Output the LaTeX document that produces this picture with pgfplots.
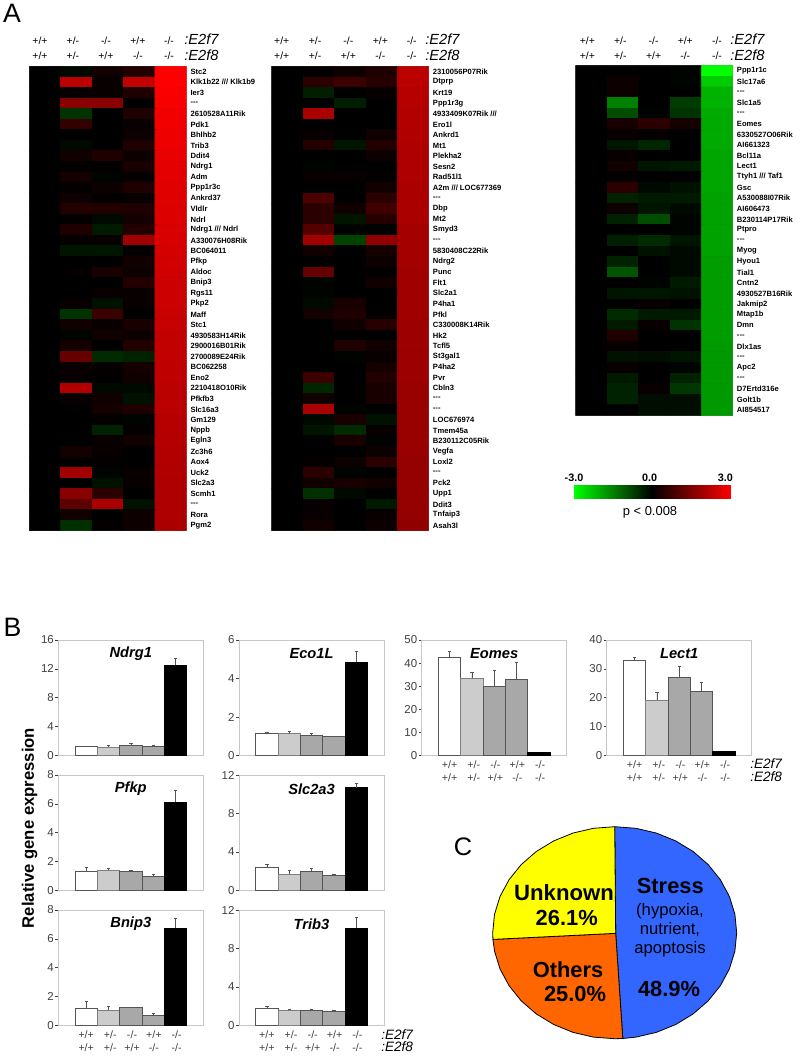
\documentclass[border=0pt]{standalone}
\usepackage{fontspec}
\setmainfont{Liberation Sans}
\usepackage{pgfplots}
\pgfplotsset{compat=1.18}
\definecolor{edg}{gray}{0.33}
\definecolor{edgl}{gray}{0.5}
\definecolor{fr}{gray}{0.78}
\definecolor{bar2}{gray}{0.80}
\definecolor{bar3}{gray}{0.66}
\definecolor{tk}{gray}{0.25}
\definecolor{pblue}{RGB}{51,102,255}
\definecolor{porange}{RGB}{255,102,0}
\definecolor{pyellow}{RGB}{255,255,0}
\newcommand\fs[1]{\fontsize{#1}{#1}\selectfont}
\newcommand\T[4]{\node[inner sep=0pt,font=#3] at (#1*0.75pt,-#2*0.75pt) {#4};}
\newcommand\TW[4]{\node[inner sep=0pt,anchor=west,font=#3] at (#1*0.75pt,-#2*0.75pt) {#4};}
\pgfplotsset{
 axat/.style 2 args={at={(#1*0.75pt,-#2*0.75pt)}},
 heat/.style={
  scale only axis, anchor=north west, width=157*0.75pt,
  xmin=-0.5,xmax=4.5,ymin=-0.5,y dir=reverse,
  axis background/.style={fill=black},
  axis line style={gray,line width=0.5pt},
  colormap={gbr}{rgb255(0)=(0,255,0) rgb255(1)=(0,0,0) rgb255(2)=(255,0,0)},
  point meta min=-3,point meta max=3,
  major tick length=0pt,
  ytick pos=right, yticklabel pos=right,
  xtick pos=upper, xticklabel pos=upper,
  y tick label style={font=\bfseries\fs{5.7},inner sep=0pt,anchor=west,xshift=3pt},
  x tick label style={font=\fs{7.8},align=center,inner sep=0pt,anchor=south,yshift=4.5pt},
  xticklabels={{+/+\\[3.6pt]+/+},{+/-\\[3.6pt]+/-},{-/-\\[3.6pt]+/+},{+/+\\[3.6pt]-/-},{-/-\\[3.6pt]-/-}},
  ytick distance=1,
 },
 barp/.style={
  scale only axis, anchor=north west, width=145*0.75pt, height=115.5*0.75pt,
  xmin=-1.25,xmax=5.24,ymin=0,
  axis line style={fr,line width=0.7pt},
  major tick length=2.2pt,
  tick style={tk,line width=0.5pt},
  xtick=\empty, ytick pos=left, tick align=outside,
  y tick label style={font=\fs{8.6},color=tk,inner sep=1pt,/pgf/number format/assume math mode=true},
  every axis title shift=0pt,
  title style={at={(0.5,0.88)},anchor=center,font=\bfseries\itshape\fs{11}},
  cycle list={{fill=white,draw=edg},{fill=bar2,draw=edgl},{fill=bar3,draw=edg},{fill=bar3,draw=edg},{fill=black,draw=black}},
  every axis plot/.append style={ybar,bar width=1,bar shift=0pt,line width=0.6pt,
    error bars/y dir=plus,error bars/y explicit,
    error bars/error bar style={edg,line width=0.5pt},
    error bars/error mark options={rotate=90,mark size=1.2pt,edg,line width=0.5pt}},
 },
 barlab/.style={
  xtick={0,1.08,2.05,3.03,4.05},
  xticklabels={{+/+\\[2pt]+/+},{+/-\\[2pt]+/-},{-/-\\[2pt]+/+},{+/+\\[2pt]-/-},{-/-\\[2pt]-/-}},
  x tick label style={font=\fs{8},color=tk,align=center,inner sep=0pt,anchor=north,yshift=-1.6pt},
  x tick style={draw=none},
 },
}
\begin{document}
\begin{tikzpicture}
\fill[white] (0,0) rectangle (600pt,-796.5pt);
\path[use as bounding box] (0,0) rectangle (600pt,-796.5pt);

% ---------- heatmap 1
\begin{axis}[heat,axat={29.3}{66.3},height=464.4*0.75pt,ymax=43.5,
 xtick={-0.16,0.89,1.94,2.96,3.95},
 ytick={0,...,43},
 yticklabels={Stc2,Klk1b22 /// Klk1b9,Ier3,-{}-{}-,2610528A11Rik,Pdk1,Bhlhb2,Trib3,Ddit4,Ndrg1,Adm,Ppp1r3c,Ankrd37,Vldlr,Ndrl,Ndrg1 /// Ndrl,A330076H08Rik,BC064011,Pfkp,Aldoc,Bnip3,Rgs11,Pkp2,Maff,Stc1,4930583H14Rik,2900016B01Rik,2700089E24Rik,BC062258,Eno2,2210418O10Rik,Pfkfb3,Slc16a3,Gm129,Nppb,Egln3,Zc3h6,Aox4,Uck2,Slc2a3,Scmh1,-{}-{}-,Rora,Pgm2}]
\addplot[matrix plot*,mesh/cols=5,point meta=explicit] table[row sep=\\,header=false,x expr={mod(\coordindex,5)},y expr={floor((\coordindex+0.5)/5)},meta index=0] {
0\\-0.1\\0.2\\0.4\\3.0\\
0\\2.2\\0.1\\2.3\\3.0\\
0\\0.1\\0.1\\0.35\\2.95\\
0\\1.6\\1.6\\0\\2.9\\
0\\-0.6\\0\\0.35\\2.85\\
0\\0.6\\0\\0.1\\2.85\\
0\\0\\0\\0.15\\2.8\\
0\\-0.1\\0\\0.35\\2.8\\
0\\0.2\\0.35\\0.15\\2.75\\
0\\0.05\\0.05\\0.3\\2.7\\
0\\0.25\\-0.05\\0.05\\2.7\\
0\\0.05\\0.15\\0.35\\2.65\\
0\\0.15\\0.05\\0.1\\2.65\\
0\\0.4\\0.4\\0.35\\2.6\\
0\\0.05\\-0.1\\0.25\\2.6\\
0\\0.35\\-0.3\\0.4\\2.55\\
0\\0.05\\0.1\\1.9\\2.55\\
0\\-0.25\\-0.25\\0.05\\2.5\\
0\\0\\0\\0.2\\2.5\\
0\\0.05\\0.3\\0.15\\2.45\\
0\\0\\0\\0.4\\2.4\\
0\\0\\0.1\\0.1\\2.4\\
0\\0.1\\-0.2\\0.1\\2.4\\
0\\-0.6\\0.7\\0\\2.35\\
0\\0.2\\0.1\\0.3\\2.35\\
0\\-0.05\\0.2\\0.15\\2.3\\
0\\0.25\\0\\0.4\\2.3\\
0\\1.2\\-0.5\\-0.4\\2.3\\
0\\0.1\\0.05\\0.25\\2.25\\
0\\0.1\\0.05\\0.2\\2.25\\
0\\2.1\\-0.1\\-0.1\\2.2\\
0\\0.1\\0.2\\-0.2\\2.2\\
0\\0\\0.25\\0.35\\2.2\\
0\\0\\0.05\\-0.05\\2.15\\
0\\0\\-0.4\\0.05\\2.15\\
0\\0\\0.1\\0.2\\2.15\\
0\\0.25\\0.1\\0\\2.1\\
0\\0\\0.05\\0\\2.1\\
0\\1.9\\-0.05\\0.1\\2.1\\
0\\0\\-0.2\\0.1\\2.05\\
0\\1.6\\0.5\\0\\2.05\\
0\\1.1\\2.0\\-0.2\\2.05\\
0\\0.2\\0\\0.15\\2.05\\
0\\-0.55\\0.05\\0.15\\2.0\\
};
\end{axis}

% ---------- heatmap 2
\begin{axis}[heat,axat={271.7}{66.3},height=464.4*0.75pt,ymax=43.5,
 xtick={-0.18,0.88,1.94,2.96,3.96},
 ytick={0,...,43},
 yticklabels={2310056P07Rik,Dtprp,Krt19,Ppp1r3g,4933409K07Rik ///,Ero1l,Ankrd1,Mt1,Plekha2,Sesn2,Rad51l1,A2m /// LOC677369,-{}-{}-,Dbp,Mt2,Smyd3,-{}-{}-,5830408C22Rik,Ndrg2,Punc,Flt1,Slc2a1,P4ha1,Pfkl,C330008K14Rik,Hk2,Tcfl5,St3gal1,P4ha2,Pvr,Cbln3,-{}-{}-,-{}-{}-,LOC676974,Tmem45a,B230112C05Rik,Vegfa,Loxl2,-{}-{}-,Pck2,Upp1,Ddit3,Tnfaip3,Asah3l}]
\addplot[matrix plot*,mesh/cols=5,point meta=explicit] table[row sep=\\,header=false,x expr={mod(\coordindex,5)},y expr={floor((\coordindex+0.5)/5)},meta index=0] {
0\\0.05\\0.15\\0.35\\2.2\\
0\\0.5\\0.7\\0.45\\2.2\\
0\\-0.35\\0\\0.1\\2.15\\
0\\0\\-0.35\\0\\2.15\\
0\\2.0\\0\\0\\2.1\\
0\\0\\0\\0\\2.1\\
0\\0.1\\0\\0.2\\2.1\\
0\\0.4\\-0.25\\0.4\\2.05\\
0\\0\\0\\0.15\\2.05\\
0\\-0.05\\0\\0\\2.05\\
0\\0.1\\0.1\\0.05\\2.05\\
0\\0\\0\\0.2\\2.0\\
0\\0.9\\0\\0.5\\2.0\\
0\\0.5\\0.2\\0.75\\2.0\\
0\\0.5\\-0.25\\0.45\\2.0\\
0\\1.0\\-0.05\\-0.05\\1.95\\
0\\1.9\\-0.8\\1.7\\1.95\\
0\\0.2\\0\\0.25\\1.95\\
0\\0\\0\\0.15\\1.95\\
0\\1.2\\0\\0\\1.9\\
0\\-0.05\\0\\0.2\\1.9\\
0\\-0.05\\0\\0\\1.9\\
0\\-0.1\\0.3\\0\\1.9\\
0\\0.25\\0.35\\0.05\\1.9\\
0\\0\\0.2\\0.45\\1.85\\
0\\0\\0\\0\\1.85\\
0\\0\\0.35\\0.2\\1.85\\
0\\0\\-0.05\\0.1\\1.85\\
0\\0\\0\\0.25\\1.85\\
0\\0.7\\0\\0.4\\1.85\\
0\\-0.45\\0\\0.3\\1.8\\
0\\0.2\\0\\0.3\\1.8\\
0\\2.0\\-0.05\\0\\1.8\\
0\\-0.1\\0.3\\-0.2\\1.8\\
0\\-0.25\\-0.5\\0.1\\1.8\\
0\\0\\0.3\\-0.05\\1.8\\
0\\0\\0\\0.15\\1.8\\
0\\0.05\\0.15\\0.5\\1.75\\
0\\0.5\\-0.05\\0\\1.75\\
0\\0.2\\0.3\\0.2\\1.75\\
0\\-0.55\\-0.1\\0\\1.75\\
0\\0.1\\0\\-0.3\\1.75\\
0\\0.1\\0\\0.1\\1.75\\
0\\0.2\\0\\0.15\\1.7\\
};
\end{axis}

% ---------- heatmap 3
\begin{axis}[heat,axat={575.7}{65.7},height=349.6*0.75pt,ymax=32.5,
 xtick={-0.13,0.92,1.98,2.99,4.0},
 ytick={0,...,32},
 yticklabels={Ppp1r1c,Slc17a6,-{}-{}-,Slc1a5,-{}-{}-,Eomes,6330527O06Rik,AI661323,Bcl11a,Lect1,Ttyh1 /// Taf1,Gsc,A530088I07Rik,AI606473,B230114P17Rik,Ptpro,-{}-{}-,Myog,Hyou1,Tial1,Cntn2,4930527B16Rik,Jakmip2,Mtap1b,Dmn,-{}-{}-,Dlx1as,-{}-{}-,Apc2,-{}-{}-,D7Ertd316e,Golt1b,AI854517}]
\addplot[matrix plot*,mesh/cols=5,point meta=explicit] table[row sep=\\,header=false,x expr={mod(\coordindex,5)},y expr={floor((\coordindex+0.5)/5)},meta index=0] {
0\\0\\0\\-0.05\\-3.0\\
0\\0.15\\0\\-0.05\\-2.4\\
0\\0.15\\0\\0\\-2.1\\
0\\-1.5\\0\\-0.7\\-2.1\\
0\\-0.9\\-0.05\\-0.6\\-2.0\\
0\\0.3\\0.5\\0.25\\-2.0\\
0\\0.1\\0.05\\0\\-2.0\\
0\\-0.25\\-0.45\\0\\-2.0\\
0\\0.1\\0\\0\\-1.95\\
0\\0.2\\-0.25\\-0.3\\-1.95\\
0\\0.05\\0\\0\\-1.95\\
0\\0.5\\-0.1\\-0.2\\-1.95\\
0\\-0.4\\-0.3\\-0.3\\-1.9\\
0\\0.15\\-0.25\\-0.1\\-1.9\\
0\\-0.4\\-0.9\\-0.05\\-1.9\\
0\\0\\0\\-0.05\\-1.9\\
0\\-0.35\\-0.5\\-0.25\\-1.9\\
0\\0\\-0.2\\-0.1\\-1.9\\
0\\-0.4\\0\\-0.1\\-1.85\\
0\\-1.0\\0\\-0.1\\-1.85\\
0\\0\\-0.05\\-0.3\\-1.85\\
0\\-0.25\\-0.25\\-0.2\\-1.85\\
0\\0\\0.1\\0\\-1.85\\
0\\-0.5\\-0.3\\-0.3\\-1.85\\
0\\-0.3\\0.1\\-0.6\\-1.85\\
0\\0.35\\0\\0\\-1.85\\
0\\0.1\\0\\0\\-1.8\\
0\\-0.2\\-0.15\\-0.25\\-1.8\\
0\\0.1\\0\\-0.05\\-1.8\\
0\\-0.3\\0\\-0.4\\-1.8\\
0\\-0.4\\0.1\\-0.65\\-1.8\\
0\\-0.4\\-0.15\\-0.15\\-1.8\\
0\\0\\-0.15\\-0.15\\-1.8\\
};
\end{axis}

% ---------- colour bar
\begin{axis}[scale only axis,anchor=north west,axat={574}{485.3},width=156.7*0.75pt,height=13.4*0.75pt,
 xmin=-3,xmax=3,ymin=0,ymax=1,axis line style={draw=none},
 colormap={gbr}{rgb255(0)=(0,255,0) rgb255(1)=(0,0,0) rgb255(2)=(255,0,0)},
 point meta min=-3,point meta max=3,
 ytick=\empty,xtick={-3,-0.1,2.8},xticklabels={-3.0,0.0,3.0},xtick pos=upper,xticklabel pos=upper,
 major tick length=0pt,
 x tick label style={font=\bfseries\fs{8.1},inner sep=0pt,yshift=2.5pt}]
\addplot[surf,shader=interp,mesh/rows=2,point meta=x] coordinates {(-3,0) (0,0) (3,0) (-3,1) (0,1) (3,1)};
\end{axis}
\T{650}{512}{\fs{9.7}}{p < 0.008}

% ---------- header labels
\TW{184}{39}{\itshape\fs{11}}{:E2f7}
\TW{184}{55}{\itshape\fs{11}}{:E2f8}
\TW{425}{39.3}{\itshape\fs{11}}{:E2f7}
\TW{425}{55.7}{\itshape\fs{11}}{:E2f8}
\TW{730}{39.3}{\itshape\fs{11}}{:E2f7}
\TW{730}{55.7}{\itshape\fs{11}}{:E2f8}
\T{12}{13}{\fs{20}}{A}
\T{12.5}{627}{\fs{20}}{B}
\T{463}{847}{\fs{19}}{C}

% ---------- bar panels
\begin{axis}[barp,axat={58.3}{640},ymax=16,ytick={0,4,8,12,16},title={Ndrg1}]
\addplot coordinates {(0,1.2) +- (0,0.1)};
\addplot coordinates {(1,1.15) +- (0,0.25)};
\addplot coordinates {(2,1.38) +- (0,0.32)};
\addplot coordinates {(3,1.2) +- (0,0.23)};
\addplot coordinates {(4,12.53) +- (0,0.92)};
\end{axis}
\begin{axis}[barp,axat={239}{640},ymax=6,ytick={0,2,4,6},title={Eco1L}]
\addplot coordinates {(0,1.13) +- (0,0.07)};
\addplot coordinates {(1,1.13) +- (0,0.14)};
\addplot coordinates {(2,1.06) +- (0,0.07)};
\addplot+[error bars/y dir=none] coordinates {(3,1.0)};
\addplot coordinates {(4,4.84) +- (0,0.58)};
\end{axis}
\begin{axis}[barp,axat={58.3}{775},ymax=8,ytick={0,2,4,6,8},title={Pfkp}]
\addplot coordinates {(0,1.33) +- (0,0.29)};
\addplot coordinates {(1,1.4) +- (0,0.15)};
\addplot coordinates {(2,1.3) +- (0,0.09)};
\addplot coordinates {(3,0.98) +- (0,0.11)};
\addplot coordinates {(4,6.13) +- (0,0.83)};
\end{axis}
\begin{axis}[barp,axat={239}{775},ymax=12,ytick={0,4,8,12},title={Slc2a3}]
\addplot coordinates {(0,2.4) +- (0,0.3)};
\addplot coordinates {(1,1.67) +- (0,0.41)};
\addplot coordinates {(2,1.95) +- (0,0.31)};
\addplot coordinates {(3,1.53) +- (0,0.14)};
\addplot coordinates {(4,10.68) +- (0,0.45)};
\end{axis}
\begin{axis}[barp,barlab,axat={58.3}{910},ymax=8,ytick={0,2,4,6,8},title={Bnip3}]
\addplot coordinates {(0,1.18) +- (0,0.48)};
\addplot coordinates {(1,1.06) +- (0,0.26)};
\addplot+[error bars/y dir=none] coordinates {(2,1.25)};
\addplot coordinates {(3,0.7) +- (0,0.13)};
\addplot coordinates {(4,6.74) +- (0,0.7)};
\end{axis}
\begin{axis}[barp,barlab,axat={239}{910},ymax=12,ytick={0,4,8,12},title={Trib3}]
\addplot coordinates {(0,1.77) +- (0,0.21)};
\addplot coordinates {(1,1.56) +- (0,0.11)};
\addplot coordinates {(2,1.53) +- (0,0.14)};
\addplot coordinates {(3,1.46) +- (0,0.1)};
\addplot coordinates {(4,10.14) +- (0,1.06)};
\end{axis}
\begin{axis}[barp,barlab,axat={421.7}{640},ymax=50,ytick={0,10,20,30,40,50},title={Eomes}]
\addplot coordinates {(0,42.6) +- (0,2.5)};
\addplot coordinates {(1,33.5) +- (0,2.5)};
\addplot coordinates {(2,29.9) +- (0,6.9)};
\addplot coordinates {(3,33.1) +- (0,7.1)};
\addplot+[error bars/y dir=none] coordinates {(4,1.3)};
\end{axis}
\begin{axis}[barp,barlab,axat={606.7}{640},ymax=40,ytick={0,10,20,30,40},title={Lect1}]
\addplot coordinates {(0,33.1) +- (0,1)};
\addplot coordinates {(1,19.1) +- (0,2.8)};
\addplot coordinates {(2,27.1) +- (0,3.7)};
\addplot coordinates {(3,22.1) +- (0,3.1)};
\addplot+[error bars/y dir=none] coordinates {(4,1.3)};
\end{axis}
\TW{381}{1034.5}{\itshape\fs{10.2}}{:E2f7}
\TW{381}{1047}{\itshape\fs{10.2}}{:E2f8}
\TW{750}{763.7}{\itshape\fs{10.2}}{:E2f7}
\TW{750}{777}{\itshape\fs{10.2}}{:E2f8}
\node[inner sep=0pt,rotate=90,font=\bfseries\fs{12.5}] at (29.5*0.75pt,-828*0.75pt) {Relative gene expression};

% ---------- pie
\begin{axis}[scale only axis,anchor=center,axat={614.7}{932.7},width=244*0.75pt,height=212*0.75pt,
 xmin=-1,xmax=1,ymin=-1,ymax=1,hide axis,clip=false]
\addplot[fill=pblue,draw=black,line width=0.6pt,no marks] coordinates {(0,1) (0.174,0.985) (0.342,0.940) (0.5,0.866) (0.643,0.766) (0.766,0.643) (0.866,0.5) (0.940,0.342) (0.985,0.174) (1,0) (0.985,-0.174) (0.940,-0.342) (0.866,-0.5) (0.766,-0.643) (0.643,-0.766) (0.5,-0.866) (0.342,-0.940) (0.174,-0.985) (0.066,-0.998) (0.008,-0.006)} --cycle;
\addplot[fill=porange,draw=black,line width=0.6pt,no marks] coordinates {(0.066,-0.998) (0,-1) (-0.174,-0.985) (-0.342,-0.940) (-0.5,-0.866) (-0.643,-0.766) (-0.766,-0.643) (-0.866,-0.5) (-0.940,-0.342) (-0.985,-0.174) (-0.998,-0.063) (0.008,-0.006)} --cycle;
\addplot[fill=pyellow,draw=black,line width=0.6pt,no marks] coordinates {(-0.998,-0.063) (-1,0) (-0.985,0.174) (-0.940,0.342) (-0.866,0.5) (-0.766,0.643) (-0.643,0.766) (-0.5,0.866) (-0.342,0.940) (-0.174,0.985) (0,1) (0.008,-0.006)} --cycle;
\end{axis}
\T{670.3}{886}{\bfseries\fs{16.4}}{Stress}
\T{670}{911}{\fs{12.5}}{(hypoxia,}
\T{670}{930}{\fs{12.5}}{nutrient,}
\T{670}{949}{\fs{12.5}}{apoptosis}
\T{669}{989}{\bfseries\fs{16.4}}{48.9\%}
\T{564}{893}{\bfseries\fs{16.6}}{Unknown}
\T{566.7}{918}{\bfseries\fs{16.4}}{26.1\%}
\T{568}{970}{\bfseries\fs{16.4}}{Others}
\T{575}{994}{\bfseries\fs{16.4}}{25.0\%}
\end{tikzpicture}
\end{document}
